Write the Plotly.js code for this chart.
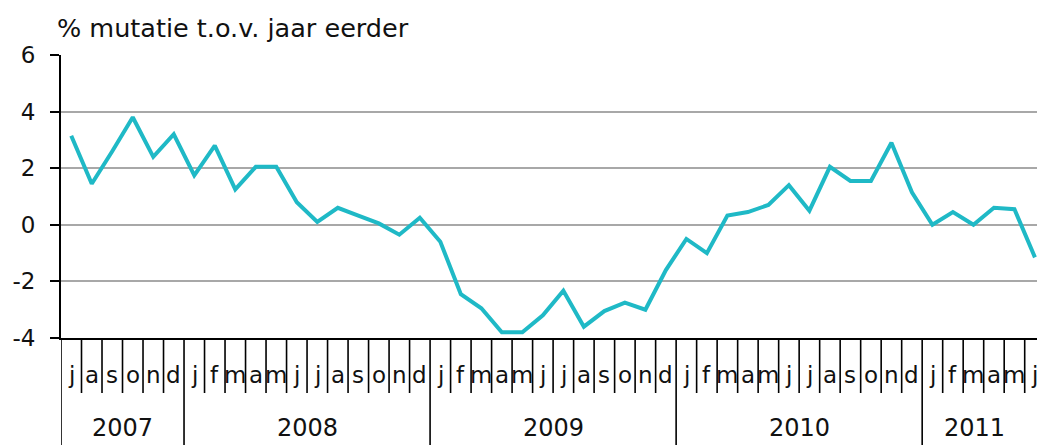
<!DOCTYPE html>
<html>
<head>
<meta charset="utf-8">
<script src="https://cdn.plot.ly/plotly-3.0.1.min.js"></script>
<style>html,body{margin:0;padding:0;background:#fff;}#chart{width:1037px;height:445px;}</style>
</head>
<body>
<div id="chart"></div>
<script>
// Data
const monthLabels = [
  'j','a','s','o','n','d',
  'j','f','m','a','m','j','j','a','s','o','n','d',
  'j','f','m','a','m','j','j','a','s','o','n','d',
  'j','f','m','a','m','j','j','a','s','o','n','d',
  'j','f','m','a','m','j'
];
const values = [
  3.15, 1.45, 2.6, 3.8, 2.4, 3.2,
  1.75, 2.8, 1.25, 2.05, 2.05, 0.8, 0.1, 0.6, 0.32, 0.05, -0.35, 0.25,
  -0.6, -2.45, -2.95, -3.8, -3.8, -3.2, -2.33, -3.6, -3.05, -2.75, -3.0, -1.6,
  -0.5, -1.0, 0.33, 0.45, 0.7, 1.4, 0.5, 2.05, 1.55, 1.55, 2.9, 1.15,
  0.0, 0.45, 0.0, 0.6, 0.55, -1.15
];
const yearLabels = ['2007', '2008', '2009', '2010', '2011'];
const yearMonthCounts = [6, 12, 12, 12, 6];
const yTickValues = [-4, -2, 0, 2, 4, 6];
const yTickLabels = ['-4', '-2', '0', '2', '4', '6'];
const titleText = '% mutatie t.o.v. jaar eerder';

const xIdx = values.map((_, i) => i);
const FONT = 'DejaVu Sans, Verdana, sans-serif';

// plot geometry (paper fractions)
const plotH = 283;
const monthTickBottom = -(393 - 338) / plotH;
const yearTickBottom = -(445 - 338) / plotH;
const monthLabelY = -(375 - 338) / plotH;
const yearLabelY = -(428 - 338) / plotH;

const shapes = [];
const annotations = [];
const yearStarts = [];
let acc = 0;
yearMonthCounts.forEach(c => { yearStarts.push(acc); acc += c; });
for (let k = 0; k <= monthLabels.length; k++) {
  const isYear = yearStarts.includes(k);
  shapes.push({
    type: 'line', xref: 'x', yref: 'paper',
    x0: k - 0.5, x1: k - 0.5, y0: 0, y1: isYear ? yearTickBottom : monthTickBottom,
    line: {color: '#000', width: 1.6}
  });
}
monthLabels.forEach((m, i) => {
  annotations.push({
    xref: 'x', yref: 'paper', x: i, y: monthLabelY, text: m, showarrow: false,
    xanchor: 'center', yanchor: 'middle', font: {family: FONT, size: 23, color: '#111'}
  });
});
yearLabels.forEach((yl, j) => {
  let cx = yearStarts[j] + (yearMonthCounts[j] - 1) / 2;
  if (j === yearLabels.length - 1) cx -= 0.45;
  annotations.push({
    xref: 'x', yref: 'paper', x: cx, y: yearLabelY, text: yl, showarrow: false,
    xanchor: 'center', yanchor: 'middle', font: {family: FONT, size: 24, color: '#111'}
  });
});

const trace = {
  x: xIdx, y: values, type: 'scatter', mode: 'lines',
  line: {color: '#1fb9c6', width: 4},
  hoverinfo: 'skip'
};

const layout = {
  width: 1037, height: 445,
  margin: {l: 61, r: 0, t: 55, b: 107, pad: 0},
  paper_bgcolor: '#fff', plot_bgcolor: '#fff',
  showlegend: false,
  title: {
    text: titleText, xref: 'container', yref: 'container',
    x: 57 / 1037, xanchor: 'left', y: 1 - 28 / 445, yanchor: 'middle',
    font: {family: FONT, size: 25.5, color: '#111'}
  },
  xaxis: {
    type: 'linear', range: [-0.5, 47.1], showgrid: false, zeroline: false,
    showticklabels: false, ticks: '', showline: true, linecolor: '#000', linewidth: 2,
    fixedrange: true
  },
  yaxis: {
    range: [-4, 6], tickmode: 'array', tickvals: yTickValues, ticktext: yTickLabels,
    showgrid: true, gridcolor: '#a8a8a8', gridwidth: 2, zeroline: false,
    showline: true, linecolor: '#000', linewidth: 2,
    ticks: 'outside', ticklen: 9, tickwidth: 2, tickcolor: '#000',
    ticklabelstandoff: 10,
    tickfont: {family: FONT, size: 23, color: '#111'},
    fixedrange: true
  },
  shapes: shapes,
  annotations: annotations
};

Plotly.newPlot('chart', [trace], layout, {displayModeBar: false, staticPlot: true});
</script>
</body>
</html>
